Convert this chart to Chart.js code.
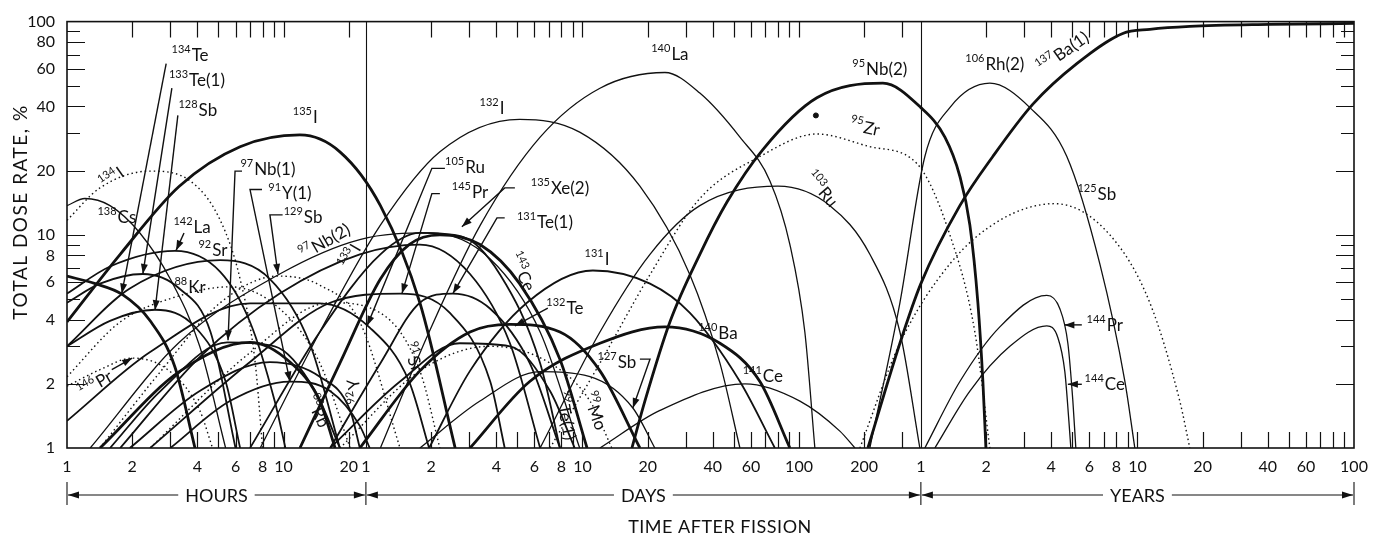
<!DOCTYPE html>
<html>
<head>
<meta charset="utf-8">
<script src="https://cdn.jsdelivr.net/npm/chart.js@4.4.0/dist/chart.umd.min.js"></script>
<style>
  html, body { margin: 0; background: #fff; }
</style>
</head>
<body>
<canvas id="doseChart" width="1378" height="541"></canvas>
<script>
// time unit factors (chart x axis is in hours)
const HOUR = 1, DAY = 24, YEAR = 8766;

// labelled ticks
const hourTicks = [1, 2, 4, 6, 8, 10, 20];
const dayTicks = [1, 2, 4, 6, 8, 10, 20, 40, 60, 100, 200];
const yearTicks = [1, 2, 4, 6, 8, 10, 20, 40, 60, 100];
const doseTicks = [1, 2, 4, 6, 8, 10, 20, 40, 60, 80, 100];

// small inward tick marks
const hourMarks = [2, 3, 4, 5, 6, 7, 8, 9, 10, 20];
const dayMarks = [2, 3, 4, 5, 6, 7, 8, 9, 10, 20, 30, 40, 50, 60, 70, 80, 90, 100, 200, 300];
const yearMarks = [2, 3, 4, 5, 6, 7, 8, 9, 10, 20, 30, 40, 50, 60, 70, 80, 90];
const doseMarks = [2, 3, 4, 5, 6, 7, 8, 9, 10, 20, 30, 40, 50, 60, 70, 80, 90];

// curves: [hours after fission, % of total dose rate]
const cs138 = [[1, 13.7], [1.21, 14.8], [1.58, 13.7], [2.17, 10.2], [3.0, 6.2], [4.1, 3.0], [5.4, 1]];
const i134 = [[1, 11.7], [1.42, 16.6], [2.42, 19.9], [3.7, 17.9], [5.1, 11.7], [6.3, 6.2], [7.4, 2.5], [8.0, 1]];
const te134 = [[1, 6.4], [1.35, 5.9], [1.8, 5.25], [2.42, 3.95], [3.15, 2.4], [3.9, 1]];
const te133 = [[1, 4.8], [1.42, 5.9], [2.24, 6.55], [3.3, 5.6], [4.6, 3.5], [6.0, 1]];
const sb128 = [[1, 3.0], [1.58, 3.95], [2.55, 4.45], [3.9, 3.7], [5.4, 2.05], [6.3, 1]];
const la142 = [[1, 5.3], [1.58, 7.1], [3.15, 8.4], [5.1, 6.7], [7.0, 3.9], [9.1, 1.66], [10.2, 1]];
const sr92 = [[1, 3.0], [1.95, 5.6], [5.1, 7.6], [8.65, 6.2], [13.2, 3.1], [18.2, 1]];
const kr88 = [[1, 2.16], [1.76, 3.9], [3.15, 5.1], [5.65, 5.7], [9.6, 4.5], [14.7, 2.5], [20.3, 1]];
const i135 = [[1, 3.9], [1.76, 8.1], [3.3, 16.9], [6.3, 25.9], [11.9, 29.4], [18.2, 24.5], [28, 13.7], [42.6, 4.8], [62, 1]];
const pr146 = [[1, 1.95], [1.42, 2.33], [2.0, 2.64], [3.0, 2.28], [4.1, 1.5], [4.7, 1]];
const nb97a = [[1.58, 1], [2.7, 1.85], [5.5, 3.13], [9.1, 3.0], [14, 1.85], [18.2, 1]];
const y91a = [[3.0, 1], [5.65, 1.66], [10.7, 2.05], [16.4, 1.85], [22.5, 1.27], [25, 1]];
const sb129 = [[1.42, 1], [2.7, 2.28], [5.1, 4.8], [9.4, 6.4], [14.7, 5.8], [22.5, 3.9], [34.5, 1]];
const rb88 = [[1.42, 1], [3.3, 2.28], [7.0, 3.13], [10.7, 2.53], [14.7, 1.66], [17.3, 1]];
const y92 = [[1.95, 1], [4.1, 1.85], [8.65, 2.53], [14.7, 2.16], [20.3, 1.5], [22.5, 1]];
const nb97b = [[1.76, 1], [4.1, 2.67], [9.6, 5.3], [22.5, 8.1], [42.6, 9.0], [72.6, 6.55], [111, 3.1], [153, 1]];
const i133 = [[1.28, 1], [3.3, 3.13], [9.6, 6.55], [22.5, 9.5], [47.4, 10.2], [90, 7.7], [153, 3.5], [233, 1]];
const ru105 = [[1, 1.34], [2.42, 2.82], [7.0, 4.77], [14.7, 4.77], [25, 3.67], [38, 2.05], [47, 1]];
const pr145 = [[2.42, 1], [7.0, 2.53], [16.4, 4.8], [34.5, 5.3], [58.6, 4.3], [90, 2.05], [105, 1]];
const xe135 = [[7, 1], [14.7, 3.5], [28, 8.1], [42.6, 10.2], [66.6, 9.8], [100, 6.5], [153, 2.5], [189, 1]];
const ce143 = [[11.9, 1], [18.2, 2.5], [28, 6.2], [38, 9.0], [52.7, 10], [80.7, 9.0], [123, 5.9], [189, 2.6], [252, 1]];
const te131 = [[16.4, 1], [28, 2.5], [42.6, 4.8], [60.5, 5.3], [90, 4.5], [137, 2.5], [189, 1]];
const te132 = [[22.5, 1], [42.6, 2.3], [72.6, 3.5], [111, 3.8], [189, 3.5], [289, 2.3], [442, 1]];
const i131 = [[47, 1], [72.6, 2.3], [133, 4.8], [268, 6.8], [492, 5.9], [752, 4.3], [1280, 2.05], [1856, 1]];
const sb127 = [[42.6, 1], [80.7, 1.66], [153, 2.28], [260, 2.16], [410, 1.54], [518, 1]];
const tc99 = [[16.4, 1], [34.5, 2.05], [65, 3.1], [111, 3.0], [170, 1.85], [221, 1]];
const mo99 = [[18.2, 1], [42.6, 2.3], [90, 3.0], [170, 2.5], [260, 1.66], [328, 1]];
const sr91 = [[2.42, 1], [7, 2.8], [16.4, 4.8], [28, 4.3], [42.6, 2.3], [52.7, 1]];
const i132 = [[7.8, 1], [14.7, 3.5], [28, 11.1], [52.7, 24.5], [123, 34.8], [233, 30.3], [442, 16.9], [752, 6.5], [1035, 2.5], [1280, 1]];
const la140 = [[28, 1], [47, 3.5], [81, 11.1], [153, 28.7], [289, 48.7], [577, 57.7], [836, 46.2], [1280, 28.7], [1761, 17.9], [2178, 9.0], [2553, 3.5], [2840, 1]];
const ba140 = [[72.6, 1], [137, 2.05], [289, 3.1], [577, 3.7], [1035, 3.1], [1583, 2.05], [2178, 1]];
const ce141 = [[289, 1], [547, 1.5], [1350, 2.0], [2422, 1.66], [3705, 1.2], [4350, 1]];
const ru103 = [[153, 1], [289, 3.5], [492, 8.1], [836, 13.7], [1917, 16.9], [3332, 13.7], [5096, 8.1], [7015, 3.5], [8670, 1]];
const zr95 = [[170, 1], [289, 2.5], [492, 6.5], [836, 14.8], [1583, 23.3], [2901, 29.7], [5096, 25.9], [8397, 21.6], [11930, 10], [15560, 3.5], [18250, 1]];
const nb95 = [[406, 1], [466, 1.66], [608, 3.9], [836, 8.1], [1114, 14.2], [1634, 25.1], [2901, 43.9], [5853, 51.4], [8766, 39.5], [11317, 28.7], [13270, 18.8], [14760, 11.1], [16070, 4.8], [16950, 2.05], [17500, 1]];
const rh106 = [[5096, 1], [7015, 4.8], [9146, 23.3], [11930, 39.5], [18250, 51.4], [27930, 39.5], [41380, 23.3], [58770, 7.3], [76740, 2.05], [85260, 1]];
const ba137 = [[4990, 1], [7015, 3.1], [8766, 5.9], [13270, 13.7], [18840, 23.3], [28840, 41], [46000, 63.5], [75000, 88], [100000, 92], [153000, 95], [358000, 97], [876600, 98]];
const sb125 = [[4584, 1], [7015, 3.1], [11930, 7.3], [20300, 11.7], [36390, 14], [65330, 10], [100000, 4.8], [137500, 1.66], [153000, 1]];
const pr144 = [[9146, 1], [13270, 2.05], [20300, 3.7], [33440, 5.2], [38420, 4.5], [41830, 3.1], [44120, 1.66], [45530, 1]];
const ce144 = [[10170, 1], [14760, 1.85], [22580, 3.0], [33440, 3.74], [37600, 3.3], [40510, 2.28], [42290, 1.34], [43180, 1]];
const strayDot = [[2871, 36.3]];

const curves = [
  { data: cs138, style: 'thin' }, { data: i134, style: 'dot' }, { data: te134, style: 'thick' },
  { data: te133, style: 'mid' }, { data: sb128, style: 'mid' }, { data: la142, style: 'mid' },
  { data: sr92, style: 'mid' }, { data: kr88, style: 'dot' }, { data: i135, style: 'thick' },
  { data: pr146, style: 'dot' }, { data: nb97a, style: 'mid' }, { data: y91a, style: 'mid' },
  { data: sb129, style: 'dot' }, { data: rb88, style: 'thick' }, { data: y92, style: 'mid' },
  { data: nb97b, style: 'mid' }, { data: i133, style: 'thin' }, { data: ru105, style: 'mid' },
  { data: pr145, style: 'mid' }, { data: xe135, style: 'mid' }, { data: ce143, style: 'thick' },
  { data: te131, style: 'mid' }, { data: te132, style: 'thick' }, { data: i131, style: 'mid' },
  { data: sb127, style: 'thin' }, { data: tc99, style: 'mid' }, { data: mo99, style: 'dot' },
  { data: sr91, style: 'dot' }, { data: i132, style: 'thin' }, { data: la140, style: 'thin' },
  { data: ba140, style: 'thick' }, { data: ce141, style: 'thin' }, { data: ru103, style: 'thin' },
  { data: zr95, style: 'dot' }, { data: nb95, style: 'thick' }, { data: rh106, style: 'thin' },
  { data: ba137, style: 'thick' }, { data: sb125, style: 'dot' }, { data: pr144, style: 'thin' },
  { data: ce144, style: 'thin' }
];

// isotope labels: mass number, symbol, position (hours, %), rotation
const isoLabels = [
  { m: '134', s: 'Te', x: 3.7, y: 70 }, { m: '133', s: 'Te(1)', x: 3.98, y: 53 },
  { m: '128', s: 'Sb', x: 4.02, y: 38.3 }, { m: '97', s: 'Nb(1)', x: 8.47, y: 20.3 },
  { m: '91', s: 'Y(1)', x: 10.7, y: 15.7 }, { m: '129', s: 'Sb', x: 12.3, y: 12.1 },
  { m: '142', s: 'La', x: 3.78, y: 10.9 }, { m: '92', s: 'Sr', x: 4.72, y: 8.53 },
  { m: '88', s: 'Kr', x: 3.7, y: 5.71 }, { m: '138', s: 'Cs', x: 1.7, y: 12.1 },
  { m: '134', s: 'I', x: 1.61, y: 18.5, r: -35 }, { m: '146', s: 'Pr', x: 1.35, y: 2.0, r: -30 },
  { m: '135', s: 'I', x: 12.6, y: 35.5 }, { m: '97', s: 'Nb(2)', x: 15.5, y: 9.3, r: -30 },
  { m: '133', s: 'I', x: 20.3, y: 7.93, r: -60 }, { m: '105', s: 'Ru', x: 68.8, y: 20.9 },
  { m: '145', s: 'Pr', x: 72.6, y: 15.9 }, { m: '135', s: 'Xe(2)', x: 189, y: 16.6 },
  { m: '131', s: 'Te(1)', x: 161, y: 11.5 }, { m: '143', s: 'Ce', x: 126, y: 6.7, r: 65 },
  { m: '132', s: 'Te', x: 199, y: 4.53 }, { m: '131', s: 'I', x: 280, y: 7.68 },
  { m: '127', s: 'Sb', x: 346, y: 2.53 }, { m: '99', s: 'Te(1)', x: 201, y: 1.42, r: 80 },
  { m: '99', s: 'Mo', x: 274, y: 1.49, r: 70 }, { m: '91', s: 'Sr', x: 39.6, y: 2.67, r: 70 },
  { m: '88', s: 'Rb', x: 14.4, y: 1.49, r: 65 }, { m: '92', s: 'Y', x: 21.3, y: 1.85, r: -100 },
  { m: '132', s: 'I', x: 91.7, y: 39.5 }, { m: '140', s: 'La', x: 608, y: 70.6 },
  { m: '95', s: 'Nb(2)', x: 5666, y: 60.2 }, { m: '95', s: 'Zr', x: 4831, y: 32, r: 12 },
  { m: '103', s: 'Ru', x: 3060, y: 16.4, r: 50 }, { m: '140', s: 'Ba', x: 1013, y: 3.48 },
  { m: '141', s: 'Ce', x: 1634, y: 2.18 }, { m: '106', s: 'Rh(2)', x: 19250, y: 63.5 },
  { m: '137', s: 'Ba(1)', x: 39650, y: 72, r: -35 }, { m: '125', s: 'Sb', x: 56920, y: 15.6 },
  { m: '144', s: 'Pr', x: 61940, y: 3.78 }, { m: '144', s: 'Ce', x: 61940, y: 1.99 }
];

// leader lines, arrow head at the last point
const leaders = [
  [[2.87, 63.5], [1.79, 5.3]],
  [[3.05, 48.7], [2.24, 6.55]],
  [[3.25, 36.3], [2.55, 4.43]],
  [[6.43, 19.9], [5.97, 19.9], [5.54, 3.2]],
  [[7.95, 16.3], [7.0, 16.3], [10.7, 2.05]],
  [[9.9, 12.4], [8.65, 12.4], [9.42, 6.55]],
  [[3.47, 10.2], [3.19, 8.45]],
  [[1.61, 2.33], [2.0, 2.64]],
  [[55.6, 20.5], [48.4, 20.5], [24.3, 3.74]],
  [[52.7, 15.6], [48.4, 15.6], [35.2, 5.3]],
  [[117, 16.6], [105, 16.6], [66.6, 10.9]],
  [[105, 12.0], [96.7, 12.0], [60.5, 5.3]],
  [[166, 4.53], [117, 3.74]],
  [[442, 2.61], [492, 2.61], [410, 1.54]],
  [[48530, 3.78], [40300, 3.78]],
  [[48530, 1.99], [41830, 1.99]]
];

const FONT = 'Lato, "DejaVu Sans", sans-serif';
const INK = '#111';

const xTickValues = [];
const xTickLabels = [];
[[hourTicks, HOUR], [dayTicks, DAY], [yearTicks, YEAR]].forEach(([list, unit]) => {
  list.forEach(v => { xTickValues.push(v * unit); xTickLabels.push(String(v)); });
});

const styles = {
  thin: { borderWidth: 1.3, borderDash: [] },
  mid: { borderWidth: 1.8, borderDash: [] },
  thick: { borderWidth: 2.8, borderDash: [] },
  dot: { borderWidth: 1.4, borderDash: [1.5, 3] }
};

const datasets = curves.map(c => ({
  data: c.data.map(p => ({ x: p[0], y: p[1] })),
  showLine: true,
  pointRadius: 0,
  borderColor: INK,
  borderWidth: styles[c.style].borderWidth,
  borderDash: styles[c.style].borderDash,
  cubicInterpolationMode: 'monotone',
  fill: false
}));
datasets.push({
  data: strayDot.map(p => ({ x: p[0], y: p[1] })),
  showLine: false, pointRadius: 2.5, backgroundColor: INK, borderColor: INK
});

function arrowHead(ctx, x1, y1, x2, y2, len, half) {
  const a = Math.atan2(y2 - y1, x2 - x1);
  ctx.beginPath();
  ctx.moveTo(x2, y2);
  ctx.lineTo(x2 - len * Math.cos(a) + half * Math.sin(a), y2 - len * Math.sin(a) - half * Math.cos(a));
  ctx.lineTo(x2 - len * Math.cos(a) - half * Math.sin(a), y2 - len * Math.sin(a) + half * Math.cos(a));
  ctx.closePath();
  ctx.fill();
}

const frame = {
  id: 'frame',
  afterDraw(chart) {
    const { ctx, chartArea: a } = chart;
    const xs = chart.scales.x, ys = chart.scales.y;
    ctx.save();
    ctx.strokeStyle = INK;
    ctx.fillStyle = INK;

    // box and the day / year dividers
    ctx.lineWidth = 1.6;
    ctx.strokeRect(a.left, a.top, a.right - a.left, a.bottom - a.top);
    ctx.lineWidth = 1.1;
    [DAY, YEAR].forEach(v => {
      const x = Math.round(xs.getPixelForValue(v)) + 0.5;
      ctx.beginPath(); ctx.moveTo(x, a.top); ctx.lineTo(x, a.bottom); ctx.stroke();
    });

    // inward ticks
    ctx.lineWidth = 1.2;
    const xm = [];
    hourMarks.forEach(v => xm.push(v * HOUR));
    dayMarks.forEach(v => xm.push(v * DAY));
    yearMarks.forEach(v => xm.push(v * YEAR));
    xm.forEach(v => {
      const x = Math.round(xs.getPixelForValue(v)) + 0.5;
      ctx.beginPath();
      ctx.moveTo(x, a.bottom); ctx.lineTo(x, a.bottom - 16);
      ctx.moveTo(x, a.top); ctx.lineTo(x, a.top + 16);
      ctx.stroke();
    });
    doseMarks.forEach(v => {
      const y = Math.round(ys.getPixelForValue(v)) + 0.5;
      const len = doseTicks.includes(v) ? 18 : 13;
      ctx.beginPath();
      ctx.moveTo(a.left, y); ctx.lineTo(a.left + len, y);
      ctx.moveTo(a.right, y); ctx.lineTo(a.right - len, y);
      ctx.stroke();
    });

    // leader lines
    ctx.lineWidth = 1.4;
    leaders.forEach(pts => {
      const px = pts.map(p => [xs.getPixelForValue(p[0]), ys.getPixelForValue(p[1])]);
      ctx.beginPath();
      px.forEach((p, i) => i ? ctx.lineTo(p[0], p[1]) : ctx.moveTo(p[0], p[1]));
      ctx.stroke();
      const n = px.length;
      arrowHead(ctx, px[n - 2][0], px[n - 2][1], px[n - 1][0], px[n - 1][1], 10, 3.5);
    });

    // isotope labels
    ctx.textBaseline = 'alphabetic';
    isoLabels.forEach(l => {
      const px = xs.getPixelForValue(l.x), py = ys.getPixelForValue(l.y);
      ctx.save();
      ctx.translate(px, py);
      ctx.rotate((l.r || 0) * Math.PI / 180);
      ctx.font = '11px ' + FONT;
      const w1 = ctx.measureText(l.m).width;
      ctx.font = '17px ' + FONT;
      const w2 = ctx.measureText(l.s).width;
      const x0 = -(w1 + w2 + 1) / 2;
      ctx.font = '11px ' + FONT;
      ctx.fillText(l.m, x0, -2);
      ctx.font = '17px ' + FONT;
      ctx.fillText(l.s, x0 + w1 + 1, 6);
      ctx.restore();
    });

    // HOURS / DAYS / YEARS spans under the axis
    const yr = 495;
    const bounds = [1, DAY, YEAR, 100 * YEAR].map(v => xs.getPixelForValue(v));
    ctx.lineWidth = 1.1;
    bounds.forEach(x => {
      ctx.beginPath(); ctx.moveTo(x, 482); ctx.lineTo(x, 505); ctx.stroke();
    });
    ctx.font = '18px ' + FONT;
    ctx.textAlign = 'center';
    ctx.textBaseline = 'middle';
    ['HOURS', 'DAYS', 'YEARS'].forEach((t, i) => {
      const x0 = bounds[i] + 1, x1 = bounds[i + 1] - 1, cx = (x0 + x1) / 2;
      const w = ctx.measureText(t).width / 2 + 7;
      ctx.fillText(t, cx, yr + 1);
      ctx.beginPath();
      ctx.moveTo(x0, yr); ctx.lineTo(cx - w, yr);
      ctx.moveTo(cx + w, yr); ctx.lineTo(x1, yr);
      ctx.stroke();
      arrowHead(ctx, x0 + 20, yr, x0, yr, 11, 3.5);
      arrowHead(ctx, x1 - 20, yr, x1, yr, 11, 3.5);
    });

    // axis titles
    ctx.font = '18px ' + FONT;
    ctx.letterSpacing = '0.5px';
    ctx.fillText('TIME AFTER FISSION', 720, 527);
    ctx.save();
    ctx.translate(21, 212);
    ctx.rotate(-Math.PI / 2);
    ctx.font = '19px ' + FONT;
    ctx.letterSpacing = '1.5px';
    ctx.fillText('TOTAL DOSE RATE, %', 0, 0);
    ctx.restore();
    ctx.restore();
  }
};

new Chart(document.getElementById('doseChart').getContext('2d'), {
  type: 'scatter',
  data: { datasets: datasets },
  options: {
    responsive: false,
    animation: false,
    devicePixelRatio: 1,
    layout: { padding: { top: 12, right: 24, left: 0, bottom: 0 } },
    plugins: { legend: { display: false }, tooltip: { enabled: false } },
    scales: {
      x: {
        type: 'logarithmic',
        min: 1,
        max: 100 * YEAR,
        grid: { display: false, drawTicks: false },
        border: { display: false },
        afterBuildTicks: s => { s.ticks = xTickValues.map(v => ({ value: v })); },
        afterFit: s => { s.height = 93; },
        ticks: {
          autoSkip: false, maxRotation: 0, minRotation: 0, padding: 9,
          color: INK, font: { family: FONT, size: 16 },
          callback: (v, i) => xTickLabels[i]
        }
      },
      y: {
        type: 'logarithmic',
        min: 1,
        max: 100,
        grid: { display: false, drawTicks: false },
        border: { display: false },
        afterBuildTicks: s => { s.ticks = doseTicks.map(v => ({ value: v })); },
        afterFit: s => { s.width = 67; },
        ticks: {
          padding: 12, color: INK, font: { family: FONT, size: 16 },
          callback: (v, i) => String(doseTicks[i])
        }
      }
    }
  },
  plugins: [frame]
});
</script>
</body>
</html>
